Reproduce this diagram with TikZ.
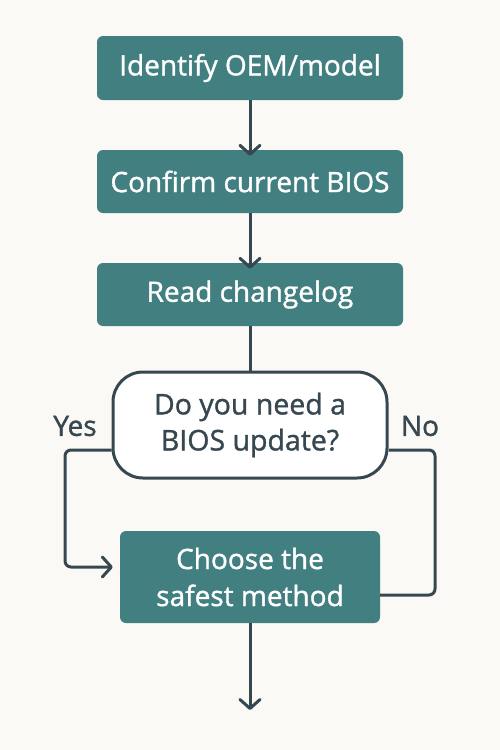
\documentclass[tikz,border=0pt]{standalone}
\usepackage{fontspec}
\setmainfont{Open Sans}
\newfontfamily\medfont{Open Sans}[FakeBold=1.2]
\usetikzlibrary{arrows.meta}
\definecolor{bg}{HTML}{FAF9F6}
\definecolor{teal}{HTML}{427F81}
\definecolor{ink}{HTML}{37474F}
\tikzset{
  procbox/.style={fill=teal, rounded corners=6pt, text=white, font=\medfont\fontsize{28}{37}\selectfont, align=center, inner sep=0pt},
  decbox/.style={draw=ink, line width=3pt, fill=white, rounded corners=30pt, text=ink, font=\medfont\fontsize{28.5}{36}\selectfont, align=center, inner sep=0pt},
  conn/.style={draw=ink, line width=3pt},
  arr/.style={conn, -{Straight Barb[length=9pt, width=20pt, line width=3pt, round]}},
  lbl/.style={text=ink, font=\medfont\fontsize{28}{30}\selectfont}
}
\begin{document}
\begin{tikzpicture}[x=1pt, y=-1pt]
\fill[bg] (0,0) rectangle (500,750);
\useasboundingbox (0,0) rectangle (500,750);
\node[procbox, minimum width=306pt, minimum height=64pt] (b1) at (250,68) {Identify OEM/model};
\node[procbox, minimum width=306pt, minimum height=63pt] (b2) at (250,181.5) {Confirm current BIOS};
\node[procbox, minimum width=306pt, minimum height=63pt] (b3) at (250,294.5) {Read changelog};
\node[decbox, minimum width=274pt, minimum height=106pt] (d) at (250,425) {Do you need a\\BIOS update?};
\node[procbox, minimum width=260pt, minimum height=92pt] (b4) at (250,577) {Choose the\\safest method};
\coordinate (yl1) at (65,450);
\coordinate (yl2) at (65,567);
\coordinate (nr1) at (435,450);
\coordinate (nr2) at (435,595);
\coordinate (endp) at (250,710);
\draw[arr] (b1.south) -- ([yshift=-6pt]b2.north);
\draw[arr] (b2.south) -- ([yshift=-6pt]b3.north);
\draw[conn] (b3.south) -- (d.north);
\draw[arr, rounded corners=6pt] (d.west |- yl1) -- (yl1) -- (yl2) -- ([xshift=-7pt]b4.west |- yl2);
\draw[conn, rounded corners=6pt] (d.east |- nr1) -- (nr1) -- (nr2) -- (b4.east |- nr2);
\draw[arr] (b4.south) -- (endp);
\node[lbl] (yes) at (75,426) {Yes};
\node[lbl] (no) at (420,426) {No};
\end{tikzpicture}
\end{document}
